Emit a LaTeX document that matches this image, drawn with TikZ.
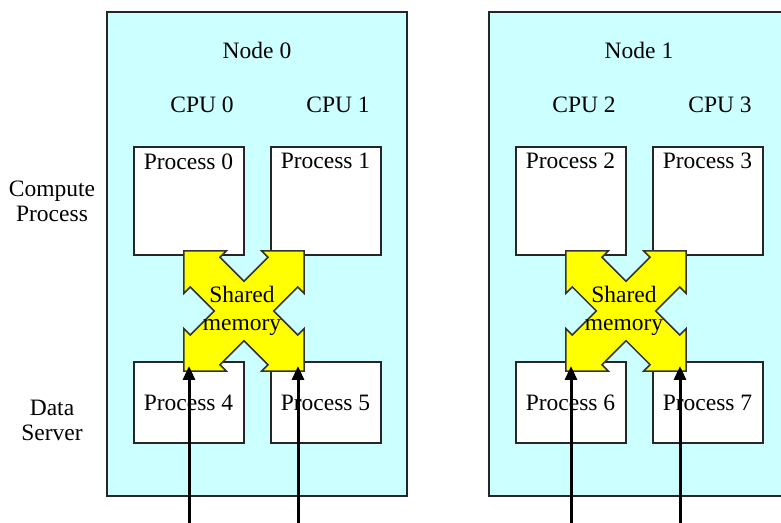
\documentclass[tikz,border=0pt]{standalone}
\usepackage{fontspec}
\setmainfont{Liberation Serif}
\usetikzlibrary{arrows.meta}
\definecolor{nodecyan}{RGB}{204,255,255}
\definecolor{memyellow}{RGB}{255,255,0}
\tikzset{
  sharedmem/.pic={
    \filldraw[fill=memyellow, draw=black!80, line width=0.75pt, rotate=45]
      (85,0) -- (55,30) -- (55,21) -- (21,21) -- (21,55) -- (30,55) -- (0,85)
      -- (-30,55) -- (-21,55) -- (-21,21) -- (-55,21) -- (-55,30) -- (-85,0)
      -- (-55,-30) -- (-55,-21) -- (-21,-21) -- (-21,-55) -- (-30,-55) -- (0,-85)
      -- (30,-55) -- (21,-55) -- (21,-21) -- (55,-21) -- (55,-30) -- cycle;
  }
}
\begin{document}
\begin{tikzpicture}[x=0.5pt, y=-0.5pt,
    font=\fontsize{11.75}{14}\selectfont,
    nodebox/.style={draw=black!85, fill=nodecyan, line width=1pt,
      minimum width=150pt, minimum height=242pt, inner sep=0pt},
    procbox/.style={draw=black!85, fill=white, line width=1pt,
      minimum width=55pt, inner sep=0pt},
    topproc/.style={procbox, minimum height=54pt,
      label={[anchor=north, inner sep=3.5pt]north:#1}},
    lowproc/.style={procbox, minimum height=40.5pt},
    sidelabel/.style={align=center, font=\fontsize{11.75}{12.5}\selectfont},
    feed/.style={line width=1.5pt, -{Triangle[length=7pt, width=6pt]}}]
      \useasboundingbox (0,0) rectangle (781,523);
      \clip (0,0) rectangle (781,523);
      \node[sidelabel] (compute) at (52,201) {Compute\\Process};
      \node[sidelabel] (server) at (52,420) {Data\\Server};
      \node[nodebox] (node0) at (257,254) {};
      \node[nodebox] (node1) at (639,254) {};
      \node (name0) at (257,50) {Node 0};
      \node (name1) at (639,50) {Node 1};
      \node (cpu0) at (202,105) {CPU 0};
      \node (cpu1) at (338,105) {CPU 1};
      \node (cpu2) at (584,105) {CPU 2};
      \node (cpu3) at (720,105) {CPU 3};
      \node[topproc={Process 0}] (proc0) at (188.5,201) {};
      \node[topproc={Process 1}] (proc1) at (325.5,201) {};
      \node[topproc={Process 2}] (proc2) at (570.5,201) {};
      \node[topproc={Process 3}] (proc3) at (707.5,201) {};
      \node[lowproc] (proc4) at (188.5,402.5) {Process 4};
      \node[lowproc] (proc5) at (325.5,402.5) {Process 5};
      \node[lowproc] (proc6) at (570.5,402.5) {Process 6};
      \node[lowproc] (proc7) at (707.5,402.5) {Process 7};
      \pic at (244,311) {sharedmem};
      \pic at (626,311) {sharedmem};
      \node[align=center] (mem0) at (242,311) {Shared\\memory};
      \node[align=center] (mem1) at (624,311) {Shared\\memory};
      \coordinate (in4) at (189,530); \coordinate (tip4) at (189,366);
      \coordinate (in5) at (298,530); \coordinate (tip5) at (298,366);
      \coordinate (in6) at (571,530); \coordinate (tip6) at (571,366);
      \coordinate (in7) at (680,530); \coordinate (tip7) at (680,366);
      \draw[feed] (in4) -- (tip4);
      \draw[feed] (in5) -- (tip5);
      \draw[feed] (in6) -- (tip6);
      \draw[feed] (in7) -- (tip7);
\end{tikzpicture}
\end{document}
